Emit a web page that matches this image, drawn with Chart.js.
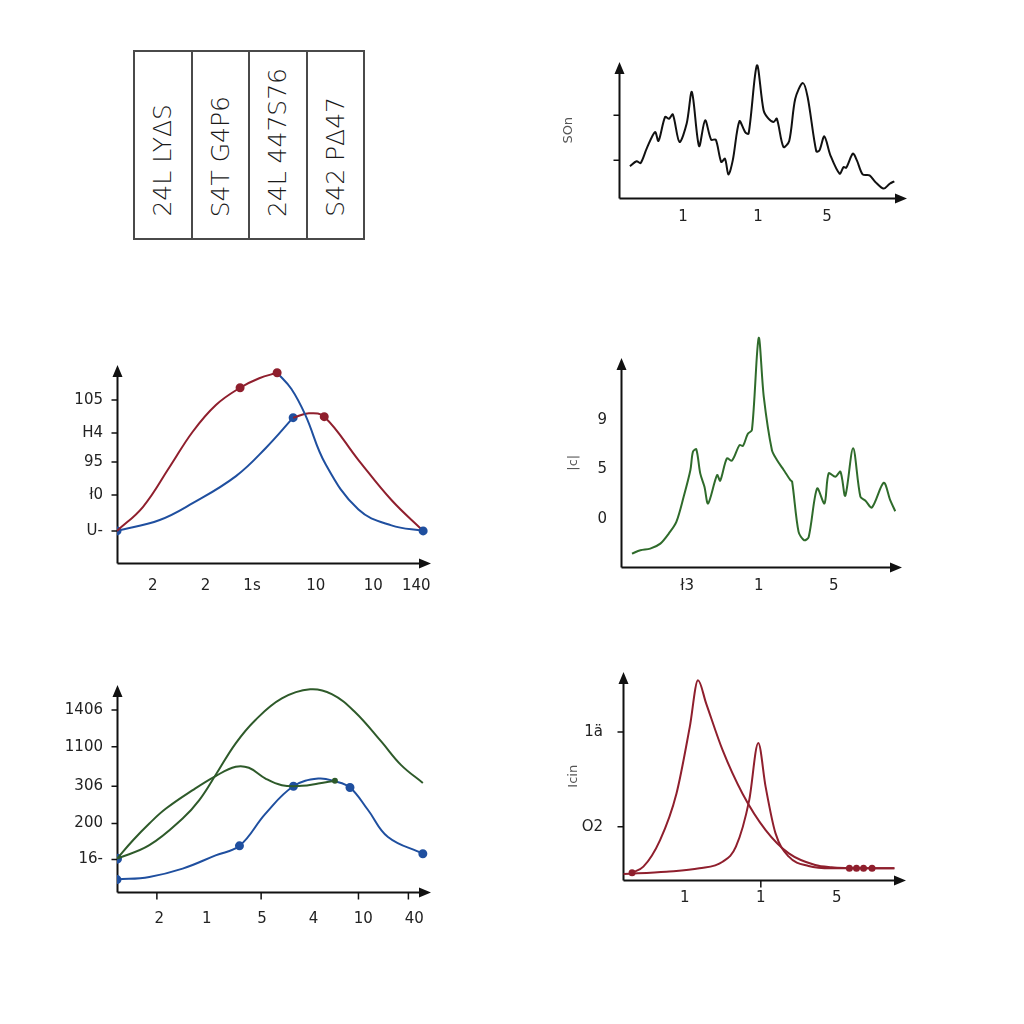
<!DOCTYPE html>
<html>
<head>
<meta charset="utf-8">
<script src="https://cdn.jsdelivr.net/npm/chart.js@4.4.1/dist/chart.umd.min.js"></script>
<style>
  body { margin: 0; background: #fff; }
  #page { position: relative; width: 1024px; height: 1024px; overflow: hidden; background: #fff; }
  canvas { position: absolute; }
  .tbl { position: absolute; left: 133px; top: 50px; width: 232px; height: 190px; border: 2px solid #4a4a4a;
         box-sizing: border-box; display: flex; }
  .tbl div { flex: 1; border-right: 2px solid #4a4a4a; display: flex; flex-direction: column;
             justify-content: flex-end; align-items: center; padding-bottom: 21px; }
  .tbl div:last-child { border-right: none; }
  .tbl span { writing-mode: vertical-rl; transform: rotate(180deg); font: 300 25px "DejaVu Sans", sans-serif;
              color: #1a1a1a; white-space: nowrap; }
</style>
</head>
<body>
<div id="page">
  <div class="tbl" id="tbl"></div>
</div>
<script>
// ---- data (x and y in axis units, 0..100 along each arrow) ----

// table top left
const cellTexts = ["24L LYΔS", "S4T G4P6", "24L 447S76", "S42 PΔ47"];

// top right: black noisy trace
const blackX = [3.8, 6.1, 7.5, 9.6, 12.5, 13.7, 16.0, 17.4, 18.7, 21.0, 23.5, 25.3, 27.8, 29.9, 32.0, 33.6, 35.5, 36.8,
  38.0, 39.5, 41.8, 43.8, 45.0, 47.9, 50.2, 51.9, 53.7, 54.8, 57.1, 59.1, 61.2, 63.8, 65.5, 68.5, 69.6, 71.3, 73.4,
  76.6, 78.0, 78.9, 81.2, 82.6, 84.6, 87.0, 89.0, 91.9, 94.0, 95.6];
const blackY = [23.3, 27.0, 25.7, 36.3, 48.5, 41.9, 59.6, 58.3, 61.5, 41.2, 54.7, 77.9, 38.2, 57.1, 42.9, 42.9, 26.5, 28.9,
  17.2, 27.7, 56.4, 48.5, 47.3, 97.5, 64.5, 58.3, 55.9, 58.3, 37.5, 41.9, 73.0, 84.6, 74.3, 34.3, 35.0, 45.3, 31.4,
  17.9, 22.8, 22.3, 32.6, 27.7, 17.4, 16.7, 11.8, 6.9, 10.5, 12.3];
const blackXTicks = [22.2, 48.3, 72.2];
const blackXLabels = ["1", "1", "5"];
const blackYMarks = [27.7, 60.8];

// middle left: red and blue humps
const redRiseX = [0, 8.3, 16.8, 24.1, 31.5, 39.2, 45.3, 51.0];
const redRiseY = [16.2, 28.4, 48.6, 66.3, 79.8, 88.5, 93.3, 96.1];
const blueFallX = [51.0, 55.5, 60.0, 66.4, 76.9, 87.4, 97.5];
const blueFallY = [96.1, 88.0, 74.7, 50.0, 27.0, 19.0, 16.2];
const blueRiseX = [0, 13.6, 24.1, 37.9, 47.4, 56.1];
const blueRiseY = [16.2, 21.7, 30.2, 43.9, 58.1, 73.4];
const redFallX = [56.1, 61.1, 66.0, 76.9, 87.4, 97.5];
const redFallY = [73.4, 75.6, 73.9, 52.0, 31.8, 16.2];
const humpXTicks = [11.4, 28.2, 43.0, 63.3, 81.6, 95.3];
const humpXLabels = ["2", "2", "1ѕ", "10", "10", "140"];
const humpYTicks = [16.2, 34.3, 51.0, 65.7, 82.3];
const humpYLabels = ["U-", "ł0", "95", "H4", "105"];

// middle right: green spectrum
const greenX = [3.9, 6.9, 10.4, 14.0, 17.0, 19.7, 22.3, 24.7, 25.6, 26.8, 28.2, 29.7, 31.0, 34.2, 35.3, 37.7, 39.5,
  42.2, 43.4, 45.1, 46.6, 49.0, 50.8, 53.7, 55.5, 57.9, 60.3, 60.9, 63.2, 65.2, 66.8, 69.8, 72.4, 73.9, 76.3, 78.1,
  79.8, 82.6, 85.2, 87.0, 89.3, 93.5, 95.8, 97.6];
const greenY = [6.4, 8.0, 8.8, 11.2, 16.0, 21.6, 33.6, 46.4, 55.2, 56.3, 44.8, 38.4, 30.4, 44.0, 41.3, 52.0, 50.9,
  58.4, 57.9, 63.7, 65.6, 109.6, 81.6, 56.0, 51.2, 46.4, 41.6, 40.8, 16.8, 12.8, 14.4, 37.6, 30.4, 44.8, 43.2, 45.6,
  34.1, 56.8, 33.6, 31.7, 28.5, 40.3, 32.0, 26.7];
const greenXTicks = [23.5, 49.0, 75.7];
const greenXLabels = ["ł3", "1", "5"];
const greenYTicks = [22.9, 46.7, 70.3];
const greenYLabels = ["0", "5", "9"];

// bottom left: two green curves and a blue one
const bigGreenX = [0, 10.3, 20.9, 26.2, 31.4, 37.8, 44.1, 52.5, 61.5, 68.4, 75.7, 84.2, 90.5, 97.4];
const bigGreenY = [16.1, 22.6, 35.5, 44.4, 56.5, 71.8, 83.1, 93.5, 97.9, 95.6, 87.1, 72.6, 61.3, 52.7];
const smallGreenX = [0, 5.1, 10.3, 15.6, 24.1, 31.4, 37.8, 42.0, 47.3, 52.5, 58.9, 64.1, 69.4];
const smallGreenY = [16.1, 25.0, 33.1, 40.3, 49.2, 56.0, 60.5, 60.0, 54.8, 51.6, 51.3, 52.4, 53.7];
const lowBlueX = [0, 10.3, 20.9, 31.4, 39.0, 47.3, 56.2, 64.1, 69.4, 74.2, 80.0, 86.3, 97.4];
const lowBlueY = [6.0, 7.3, 11.3, 17.7, 22.3, 37.9, 51.1, 54.8, 53.5, 50.5, 39.5, 26.6, 18.5];
const mixXTicks = [13.5, 28.6, 46.2, 62.6, 78.4, 94.7];
const mixXLabels = ["2", "1", "5", "4", "10", "40"];
const mixXMarks = [12.7, 45.9, 76.9, 92.8];
const mixYTicks = [15.7, 33.1, 51.1, 70.2, 87.9];
const mixYLabels = ["16-", "200", "306", "1100", "1406"];

// bottom right: two red peaks
const peakOneX = [3.2, 7.2, 13.1, 18.9, 23.6, 26.5, 29.4, 35.2, 42.2, 50.4, 58.6, 67.9, 73.7, 80.0, 82.5, 85.0, 88.0, 95.9];
const peakOneY = [3.5, 6.4, 19.2, 41.6, 73.6, 96.0, 84.8, 62.4, 41.6, 24.0, 12.8, 7.2, 6.1, 5.7, 5.6, 5.6, 5.6, 5.6];
const peakTwoX = [0.2, 15.3, 27.0, 35.2, 39.9, 44.6, 47.8, 50.4, 53.9, 58.6, 65.6, 73.7, 95.9];
const peakTwoY = [2.9, 4.0, 5.6, 8.8, 16.0, 38.4, 65.9, 44.8, 22.4, 11.2, 6.7, 5.6, 5.6];
const peakXTicks = [21.8, 48.7, 75.5];
const peakXLabels = ["1", "1", "5"];
const peakXMarks = [48.7];
const peakYTicks = [25.6, 71.2];
const peakYLabels = ["O2", "1ä"];

// ---- drawing ----
const FONT = '"DejaVu Sans", sans-serif';
const RED = "#8f1f2d", BLUE = "#1f4f9f", GREEN = "#2f6b2b", DKGREEN = "#2e5a2a", INK = "#111";

function pts(xs, ys) {
  return xs.map((x, i) => ({ x: x, y: ys[i] }));
}

function dots(n, idx, r) {
  return Array.from({ length: n }, (_, i) => (idx.includes(i) ? r : 0));
}

// axis lines with arrow heads, small tick marks and a rotated y title
const arrowAxes = {
  id: "arrowAxes",
  beforeDatasetsDraw(chart, args, opts) {
    const { ctx, chartArea: a } = chart;
    const x = chart.scales.x, y = chart.scales.y;
    const x0 = Math.round(a.left) + 0.5, y0 = Math.round(a.bottom) + 0.5;
    const yTip = y.getPixelForValue(opts.yTop ?? y.max);
    const xTip = a.right;
    ctx.save();
    ctx.strokeStyle = INK;
    ctx.fillStyle = INK;
    ctx.lineWidth = 2;
    ctx.beginPath();
    ctx.moveTo(x0, y0);
    ctx.lineTo(x0, yTip + 8);
    ctx.moveTo(x0, y0);
    ctx.lineTo(xTip - 8, y0);
    ctx.stroke();
    ctx.beginPath();
    ctx.moveTo(x0, yTip);
    ctx.lineTo(x0 - 5, yTip + 12);
    ctx.lineTo(x0 + 5, yTip + 12);
    ctx.closePath();
    ctx.moveTo(xTip, y0);
    ctx.lineTo(xTip - 12, y0 - 5);
    ctx.lineTo(xTip - 12, y0 + 5);
    ctx.closePath();
    ctx.fill();
    ctx.lineWidth = 1.5;
    ctx.beginPath();
    (opts.yMarks || []).forEach((v) => {
      const p = y.getPixelForValue(v);
      ctx.moveTo(x0 - 6, p);
      ctx.lineTo(x0, p);
    });
    (opts.xMarks || []).forEach((v) => {
      const p = x.getPixelForValue(v);
      ctx.moveTo(p, y0);
      ctx.lineTo(p, y0 + 7);
    });
    ctx.stroke();
    if (opts.title) {
      ctx.translate(x0 - opts.titleGap, (y0 + yTip) / 2);
      ctx.rotate(-Math.PI / 2);
      ctx.font = "13px " + FONT;
      ctx.fillStyle = "#555";
      ctx.textAlign = "center";
      ctx.textBaseline = "middle";
      ctx.fillText(opts.title, 0, 0);
    }
    ctx.restore();
  },
};

// box = plot rectangle on the page
function panel(box, cfg) {
  const yW = 80, xH = 44, padT = 10, padR = 4;
  const canvas = document.createElement("canvas");
  const w = box.r - box.l + yW + padR;
  const h = box.b - box.t + padT + xH;
  canvas.width = w;
  canvas.height = h;
  canvas.style.left = box.l - yW + "px";
  canvas.style.top = box.t - padT + "px";
  document.getElementById("page").appendChild(canvas);

  const tickFont = { family: FONT, size: 15 };
  new Chart(canvas, {
    type: "line",
    data: { datasets: cfg.datasets },
    options: {
      responsive: false,
      animation: false,
      events: [],
      layout: { padding: { top: padT, right: padR, left: 0, bottom: 0 } },
      plugins: {
        legend: { display: false },
        tooltip: { enabled: false },
        arrowAxes: cfg.axes,
      },
      scales: {
        x: {
          type: "linear",
          min: 0,
          max: 100,
          grid: { display: false, drawTicks: false },
          border: { display: false },
          afterFit: (s) => {
            s.height = xH;
            s.paddingLeft = 0;
            s.paddingRight = 0;
          },
          afterBuildTicks: (s) => { s.ticks = cfg.xTicks.map((v) => ({ value: v })); },
          ticks: {
            autoSkip: false,
            maxRotation: 0,
            padding: cfg.xPad,
            color: "#222",
            font: tickFont,
            callback: (v, i) => cfg.xLabels[i],
          },
        },
        y: {
          type: "linear",
          min: 0,
          max: cfg.yMax || 100,
          grid: { display: false, drawTicks: false },
          border: { display: false },
          afterFit: (s) => {
            s.width = yW;
            s.paddingTop = 0;
            s.paddingBottom = 0;
          },
          afterBuildTicks: (s) => { s.ticks = (cfg.yTicks || []).map((v) => ({ value: v })); },
          ticks: {
            autoSkip: false,
            padding: cfg.yPad || 14,
            color: "#222",
            font: tickFont,
            callback: (v, i) => (cfg.yLabels || [])[i],
          },
        },
      },
    },
    plugins: [arrowAxes],
  });
}

function line(data, color, extra) {
  return Object.assign({
    data: data,
    borderColor: color,
    backgroundColor: color,
    borderWidth: 2,
    pointRadius: 0,
    fill: false,
    tension: 0.4,
  }, extra || {});
}

// table
const tbl = document.getElementById("tbl");
cellTexts.forEach((t) => {
  const d = document.createElement("div");
  const s = document.createElement("span");
  s.textContent = t;
  d.appendChild(s);
  tbl.appendChild(d);
});

// top right
panel({ l: 619, r: 907, t: 62, b: 198 }, {
  datasets: [line(pts(blackX, blackY), INK, { tension: 0.3 })],
  xTicks: blackXTicks, xLabels: blackXLabels, xPad: 10,
  axes: { yMarks: blackYMarks, title: "SOn", titleGap: 51 },
});

// middle left
panel({ l: 117, r: 433, t: 365, b: 563 }, {
  datasets: [
    line(pts(redRiseX, redRiseY), RED, { pointRadius: dots(8, [5, 7], 3.5) }),
    line(pts(blueFallX, blueFallY), BLUE, { pointRadius: dots(7, [6], 3.5) }),
    line(pts(redFallX, redFallY), RED, { pointRadius: dots(6, [2], 3.5) }),
    line(pts(blueRiseX, blueRiseY), BLUE, { pointRadius: dots(6, [0, 5], 3.5) }),
  ],
  xTicks: humpXTicks, xLabels: humpXLabels, xPad: 14,
  yTicks: humpYTicks, yLabels: humpYLabels,
  axes: { yMarks: humpYTicks },
});

// middle right
panel({ l: 621, r: 902, t: 333, b: 567 }, {
  datasets: [line(pts(greenX, greenY), GREEN, { tension: 0.3 })],
  xTicks: greenXTicks, xLabels: greenXLabels, xPad: 10,
  yTicks: greenYTicks, yLabels: greenYLabels, yMax: 112,
  axes: { yTop: 100, title: "|c|", titleGap: 48 },
});

// bottom left
panel({ l: 117, r: 433, t: 685, b: 892 }, {
  datasets: [
    line(pts(bigGreenX, bigGreenY), DKGREEN),
    line(pts(smallGreenX, smallGreenY), DKGREEN, { pointRadius: dots(13, [12], 2) }),
    line(pts(lowBlueX, lowBlueY), BLUE, { pointRadius: dots(13, [0, 4, 6, 9, 12], 3.5) }),
    line(pts([0], [16.1]), BLUE, { pointRadius: 4 }),
  ],
  xTicks: mixXTicks, xLabels: mixXLabels, xPad: 18,
  yTicks: mixYTicks, yLabels: mixYLabels,
  axes: { yMarks: mixYTicks, xMarks: mixXMarks },
});

// bottom right
panel({ l: 623, r: 908, t: 672, b: 880 }, {
  datasets: [
    line(pts(peakOneX, peakOneY), RED, { tension: 0, cubicInterpolationMode: "monotone",
      pointRadius: dots(18, [0, 13, 14, 15, 16], 2.5) }),
    line(pts(peakTwoX, peakTwoY), RED, { tension: 0, cubicInterpolationMode: "monotone" }),
  ],
  xTicks: peakXTicks, xLabels: peakXLabels, xPad: 9,
  yTicks: peakYTicks, yLabels: peakYLabels, yPad: 20,
  axes: { yMarks: peakYTicks, xMarks: peakXMarks, title: "Icin", titleGap: 50 },
});
</script>
</body>
</html>
